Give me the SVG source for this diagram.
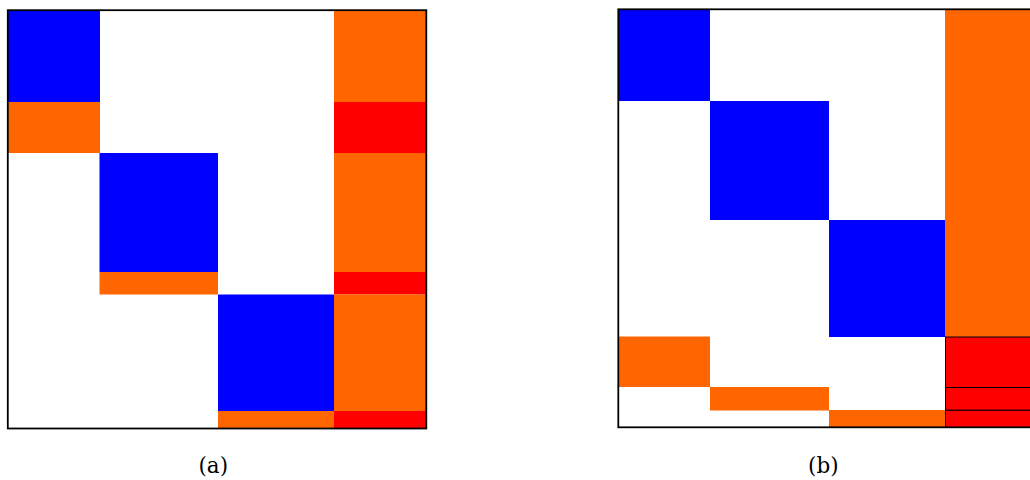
<svg xmlns="http://www.w3.org/2000/svg" width="1030" height="480" viewBox="0 0 1030 480">
<style>
.b{fill:#0000FF}
.o{fill:#FF6600}
.r{fill:#FF0000}
.rs{fill:#FF0000;stroke:#000;stroke-width:1}
.f{fill:none;stroke:#000;stroke-width:1.8}
.t{font-family:"DejaVu Serif","Liberation Serif",serif;font-size:21.5px;fill:#000;text-anchor:middle}
</style>
<rect width="1030" height="480" fill="#fff"/>
<g id="panel-a">
<rect class="b" x="8" y="10" width="92" height="92"/>
<rect class="o" x="8" y="102" width="92" height="51"/>
<rect class="b" x="99.5" y="153" width="118.5" height="119"/>
<rect class="o" x="99.5" y="272" width="118.5" height="22.5"/>
<rect class="b" x="218" y="294.5" width="116" height="116.5"/>
<rect class="o" x="218" y="411" width="116" height="17.5"/>
<rect class="o" x="334" y="10" width="92" height="92"/>
<rect class="r" x="334" y="102" width="92" height="51"/>
<rect class="o" x="334" y="153" width="92" height="119"/>
<rect class="r" x="334" y="272" width="92" height="22.5"/>
<rect class="o" x="334" y="294.5" width="92" height="116.5"/>
<rect class="r" x="334" y="411" width="92" height="17.5"/>
<rect class="f" x="7.8" y="10.2" width="418.5" height="418.3"/>
<text class="t" x="213.3" y="473">(a)</text>
</g>
<g id="panel-b">
<rect class="b" x="618" y="9.5" width="92" height="91.5"/>
<rect class="b" x="710" y="101" width="119" height="119"/>
<rect class="b" x="829" y="220" width="116" height="117"/>
<rect class="o" x="945" y="9.5" width="92" height="327.5"/>
<rect class="o" x="618" y="336.5" width="92" height="50.5"/>
<rect class="o" x="710" y="387" width="119" height="23.5"/>
<rect class="o" x="829" y="410" width="116" height="17.5"/>
<rect class="rs" x="945.5" y="337" width="92" height="50.5"/>
<rect class="rs" x="945.5" y="387.5" width="92" height="22.8"/>
<rect class="rs" x="945.5" y="410.3" width="92" height="17.2"/>
<rect class="f" x="618.3" y="9.3" width="418.3" height="418"/>
<text class="t" x="823.3" y="473">(b)</text>
</g>
<g id="connectors"/>
</svg>
